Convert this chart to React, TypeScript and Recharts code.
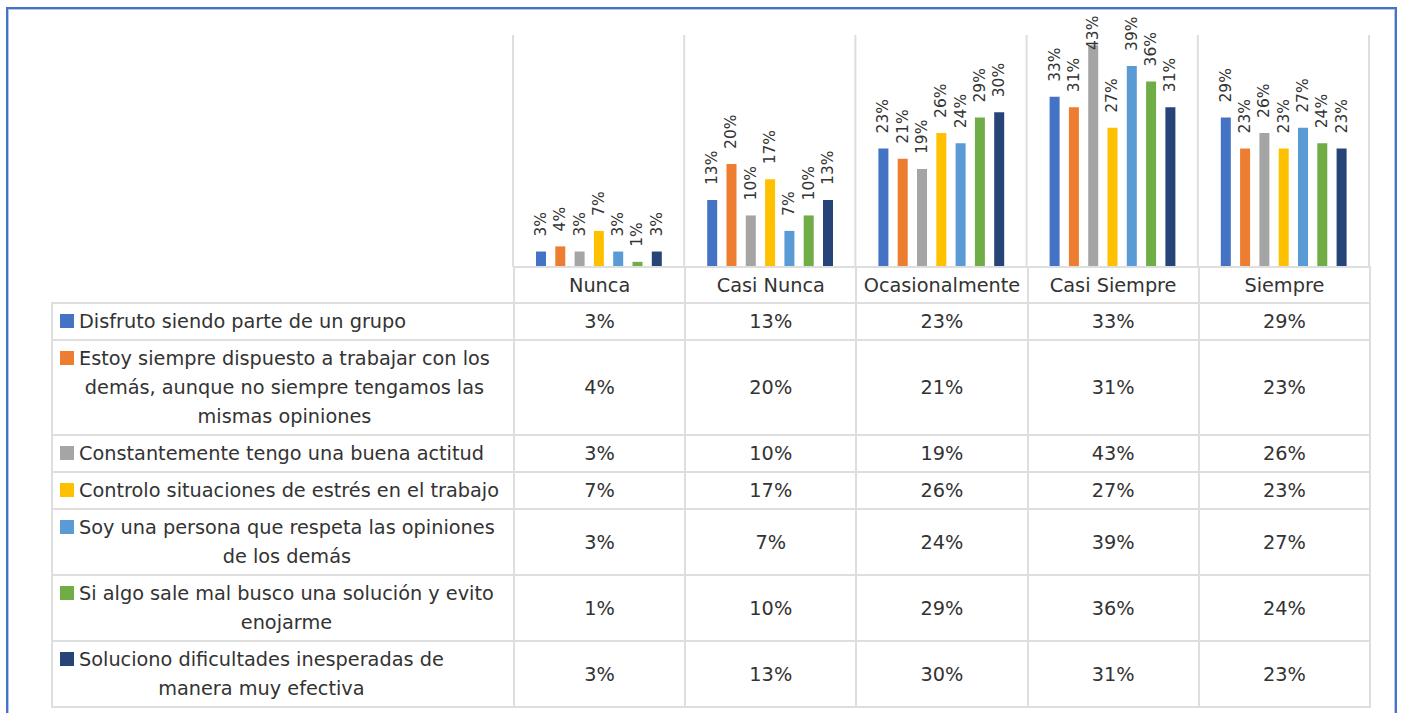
import React from 'react';
import { BarChart, Bar, XAxis, YAxis, CartesianGrid, LabelList } from 'recharts';

const categories = ['Nunca', 'Casi Nunca', 'Ocasionalmente', 'Casi Siempre', 'Siempre'];

const seriesNameLines: string[][] = [
  ['Disfruto siendo parte de un grupo'],
  ['Estoy siempre dispuesto a trabajar con los', 'demás, aunque no siempre tengamos las', 'mismas opiniones'],
  ['Constantemente tengo una buena actitud'],
  ['Controlo situaciones de estrés en el trabajo'],
  ['Soy una persona que respeta las opiniones', 'de los demás'],
  ['Si algo sale mal busco una solución y evito', 'enojarme'],
  ['Soluciono dificultades inesperadas de', 'manera muy efectiva'],
];

const disfruto = [3, 13, 23, 33, 29];
const dispuesto = [4, 20, 21, 31, 23];
const actitud = [3, 10, 19, 43, 26];
const estres = [7, 17, 26, 27, 23];
const respeta = [3, 7, 24, 39, 27];
const solucion = [1, 10, 29, 36, 24];
const dificultades = [3, 13, 30, 31, 23];

const seriesValues = [disfruto, dispuesto, actitud, estres, respeta, solucion, dificultades];
const seriesColors = ['#4472C4', '#ED7D31', '#A5A5A5', '#FFC000', '#5B9BD5', '#70AD47', '#264478'];

const data = categories.map((cat, i) => {
  const row: Record<string, string | number> = { cat };
  seriesValues.forEach((vals, s) => {
    row['s' + s] = vals[i];
  });
  return row;
});

const FONT = '"DejaVu Sans", sans-serif';
const TEXT = '#333333';
const LINE = '#DEDEDE';

const renderLabel = (props: any) => {
  const { x, y, width, value } = props;
  const cx = Number(x) + Number(width) / 2;
  const y0 = Math.max(Number(y) - 15, 50);
  return (
    <text
      x={cx}
      y={y0}
      transform={`rotate(-90 ${cx} ${y0})`}
      textAnchor="start"
      dominantBaseline="central"
      fontSize={15.5}
      fontFamily={FONT}
      fill="#333333"
    >
      {`${value}%`}
    </text>
  );
};

const cellBorder: React.CSSProperties = { border: `2px solid ${LINE}` };

export default function App() {
  return (
    <div
      style={{
        position: 'fixed',
        left: 0,
        top: 0,
        width: 1403,
        height: 713,
        background: '#ffffff',
        overflow: 'hidden',
        fontFamily: FONT,
      }}
    >
      <div
        style={{
          position: 'absolute',
          left: 6,
          top: 7,
          width: 1391,
          height: 730,
          boxSizing: 'border-box',
          border: '2px solid #4472C4',
          boxShadow: 'inset 0 0 0 1px #B4C7E7',
        }}
      />
      <div style={{ position: 'absolute', left: 0, top: 0 }}>
        <BarChart
          width={1403}
          height={267}
          data={data}
          margin={{ top: 35, right: 34, bottom: 0, left: 513 }}
          barSize={10}
          barGap={9.3}
        >
          <CartesianGrid
            horizontal={false}
            vertical
            stroke={LINE}
            strokeWidth={2}
            verticalCoordinatesGenerator={({ offset }: any) =>
              [0, 1, 2, 3, 4, 5].map((i) => offset.left + (i * offset.width) / categories.length)
            }
          />
          <XAxis dataKey="cat" hide />
          <YAxis hide domain={[0, 45]} allowDataOverflow />
          {seriesValues.map((_, s) => (
            <Bar key={s} dataKey={'s' + s} fill={seriesColors[s]} isAnimationActive={false}>
              <LabelList dataKey={'s' + s} content={renderLabel} />
            </Bar>
          ))}
        </BarChart>
      </div>
      <table
        style={{
          position: 'absolute',
          left: 51,
          top: 266,
          borderCollapse: 'collapse',
          tableLayout: 'fixed',
          width: 1318,
          fontFamily: FONT,
          fontSize: 19.3,
          color: TEXT,
        }}
      >
        <colgroup>
          <col style={{ width: 462 }} />
          {categories.map((c) => (
            <col key={c} style={{ width: 171.2 }} />
          ))}
        </colgroup>
        <tbody>
          <tr style={{ height: 36 }}>
            <td style={{ border: 'none', padding: 0 }} />
            {categories.map((c) => (
              <td key={c} style={{ ...cellBorder, textAlign: 'center', padding: 0, whiteSpace: 'nowrap' }}>
                {c}
              </td>
            ))}
          </tr>
          {seriesNameLines.map((lines, s) => (
            <tr key={s}>
              <td style={{ ...cellBorder, padding: '3px 0 3px 7px', verticalAlign: 'top' }}>
                <div style={{ display: 'flex', alignItems: 'flex-start' }}>
                  <span
                    style={{
                      width: 14,
                      height: 14,
                      background: seriesColors[s],
                      marginTop: 7,
                      marginRight: 5,
                      flex: 'none',
                    }}
                  />
                  <div style={{ textAlign: 'center', whiteSpace: 'nowrap', lineHeight: '29px' }}>
                    {lines.map((l, i) => (
                      <div key={i}>{l}</div>
                    ))}
                  </div>
                </div>
              </td>
              {seriesValues[s].map((v, i) => (
                <td key={i} style={{ ...cellBorder, textAlign: 'center', verticalAlign: 'middle', padding: 0 }}>
                  {`${v}%`}
                </td>
              ))}
            </tr>
          ))}
        </tbody>
      </table>
    </div>
  );
}
